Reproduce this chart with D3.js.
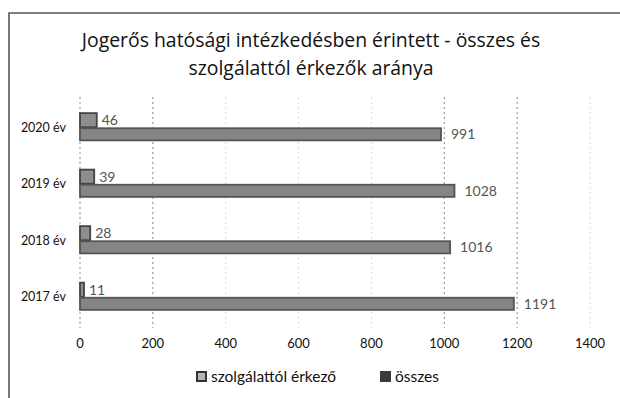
<!DOCTYPE html>
<html>
<head>
<meta charset="utf-8">
<script src="https://cdn.jsdelivr.net/npm/d3@7"></script>
<style>
  html, body { margin: 0; padding: 0; background: #fff; }
  svg { display: block; font-family: Lato, "Open Sans", sans-serif; }
</style>
</head>
<body>
<svg id="chart" width="620" height="398"></svg>
<script>
// Years (top to bottom) and the two series per year
const years = ["2020 év", "2019 év", "2018 év", "2017 év"];
const seriesNames = ["szolgálattól érkező", "összes"];
const fromService = [46, 39, 28, 11];
const total = [991, 1028, 1016, 1191];
const xTicks = [0, 200, 400, 600, 800, 1000, 1200, 1400];
const titleLines = ["Jogerős hatósági intézkedésben érintett - összes és", "szolgálattól érkezők aránya"];

const rows = years.map((y, i) => ({ year: y, values: [fromService[i], total[i]] }));

const svg = d3.select("#chart");

// Outer frame (top and left edge)
svg.append("path")
  .attr("d", "M9,398 V13 H620")
  .attr("fill", "none")
  .attr("stroke", "#555")
  .attr("stroke-width", 1.6);

// Title
svg.append("g").selectAll("text").data(titleLines).join("text")
  .attr("x", 311)
  .attr("y", (d, i) => 47 + i * 28)
  .attr("text-anchor", "middle")
  .attr("font-family", "'Open Sans', sans-serif")
  .attr("font-size", 19.4)
  .attr("fill", "#111")
  .text(d => d);

const x = d3.scaleLinear().domain([0, 1400]).range([80, 590]);
const y = d3.scaleBand().domain(years).range([99, 325]).paddingInner(0.5).paddingOuter(0.25);
const ySub = d3.scaleBand().domain([0, 1]).range([0, y.bandwidth()]);

// Vertical dotted gridlines
svg.append("g").selectAll("line").data(xTicks).join("line")
  .attr("x1", d => x(d)).attr("x2", d => x(d))
  .attr("y1", 97).attr("y2", 328)
  .attr("stroke", d => (d === 0 || d === 200 || d === 1000 || d === 1200) ? "#8a8a8a" : "#dadada")
  .attr("stroke-width", 1)
  .attr("stroke-dasharray", "2,3");

// Category labels
svg.append("g").selectAll("text").data(years).join("text")
  .attr("x", 66)
  .attr("y", d => y(d) + y.bandwidth() / 2)
  .attr("dy", "0.35em")
  .attr("text-anchor", "end")
  .attr("font-size", 12.5)
  .attr("fill", "#111")
  .text(d => d);

const fills = ["#8e8e8e", "#858585"];
const strokes = ["#444", "#555"];

const groups = svg.append("g").selectAll("g").data(rows).join("g")
  .attr("transform", d => `translate(0,${y(d.year)})`);

groups.selectAll("rect").data(d => d.values).join("rect")
  .attr("x", x(0))
  .attr("y", (d, i) => ySub(i) + (i === 1 ? 1 : 0))
  .attr("width", d => x(d) - x(0))
  .attr("height", (d, i) => ySub.bandwidth() - (i === 1 ? 2 : 0))
  .attr("fill", (d, i) => fills[i])
  .attr("stroke", (d, i) => strokes[i])
  .attr("stroke-width", 1.8);

// Value labels
groups.selectAll("text").data(d => d.values).join("text")
  .attr("x", (d, i) => x(d) + (i === 0 ? 5 : 10))
  .attr("y", (d, i) => ySub(i) + ySub.bandwidth() / 2)
  .attr("dy", "0.35em")
  .attr("font-size", 14)
  .attr("fill", "#555")
  .text(d => d);

// X axis tick labels
svg.append("g").selectAll("text").data(xTicks).join("text")
  .attr("x", d => x(d))
  .attr("y", 348)
  .attr("text-anchor", "middle")
  .attr("font-size", 13)
  .attr("fill", "#111")
  .text(d => d);

// Legend
const legend = svg.append("g");
const legendItems = [
  { name: seriesNames[0], x: 197, fill: "#b5b5b5", stroke: "#333" },
  { name: seriesNames[1], x: 381, fill: "#3a3a3a", stroke: "#3a3a3a" }
];
legendItems.forEach(it => {
  legend.append("rect")
    .attr("x", it.x).attr("y", 372).attr("width", 9).attr("height", 9)
    .attr("fill", it.fill).attr("stroke", it.stroke).attr("stroke-width", 2);
  legend.append("text")
    .attr("x", it.x + 14).attr("y", 377).attr("dy", "0.35em")
    .attr("font-size", 15.5)
    .attr("fill", "#111")
    .text(it.name);
});
</script>
</body>
</html>
